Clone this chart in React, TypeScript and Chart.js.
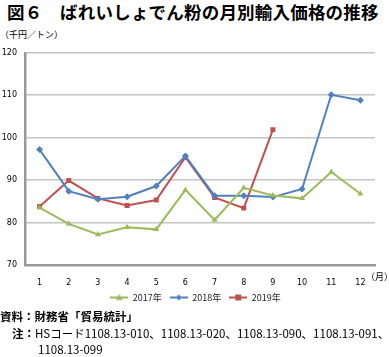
import { useEffect, useRef } from "react";
import { Chart, registerables } from "chart.js";

Chart.register(...registerables);

const months = ["1", "2", "3", "4", "5", "6", "7", "8", "9", "10", "11", "12"];
const series2017 = [83.5, 79.7, 77.2, 78.9, 78.4, 87.7, 80.6, 88.2, 86.4, 85.7, 91.9, 86.8];
const series2018 = [97.2, 87.4, 85.5, 86.1, 88.6, 95.7, 86.3, 86.3, 86.0, 87.9, 110.1, 108.8];
const series2019 = [83.8, 89.9, 85.7, 84.0, 85.3, 95.4, 85.9, 83.4, 101.9, null, null, null];
const seriesLabels = ["2017年", "2018年", "2019年"];
const seriesColors = ["#9BBB59", "#4F81BD", "#C0504D"];
const seriesMarkers = ["triangle", "rectRot", "rect"];
const yMin = 70;
const yMax = 120;
const yStep = 10;

const titleText = "図６　ばれいしょでん粉の月別輸入価格の推移";
const unitText = "（千円／トン）";
const monthUnit = "（月）";
const sourceText = "資料：財務省「貿易統計」";
const noteLabel = "注：";
const noteText1 = "HSコード1108.13-010、1108.13-020、1108.13-090、1108.13-091、";
const noteText2 = "1108.13-099";

const JP = '"Noto Sans CJK JP", "Noto Sans", sans-serif';
const TICK = '"DejaVu Sans", sans-serif';

function makeIcon(color: string, marker: string): HTMLCanvasElement {
  const c = document.createElement("canvas");
  c.width = 18;
  c.height = 8;
  const ctx = c.getContext("2d")!;
  ctx.strokeStyle = color;
  ctx.fillStyle = color;
  ctx.lineWidth = 2;
  ctx.beginPath();
  ctx.moveTo(0, 4);
  ctx.lineTo(18, 4);
  ctx.stroke();
  ctx.beginPath();
  if (marker === "triangle") {
    ctx.moveTo(9, 0.5);
    ctx.lineTo(12.5, 6.5);
    ctx.lineTo(5.5, 6.5);
    ctx.closePath();
  } else if (marker === "rectRot") {
    ctx.moveTo(9, 1);
    ctx.lineTo(12, 4);
    ctx.lineTo(9, 7);
    ctx.lineTo(6, 4);
    ctx.closePath();
  } else {
    ctx.rect(6, 1, 6, 6);
  }
  ctx.fill();
  return c;
}

export default function App() {
  const canvasRef = useRef<HTMLCanvasElement | null>(null);

  useEffect(() => {
    document.body.style.margin = "0";
    const canvas = canvasRef.current;
    if (!canvas) return;
    const icons = seriesColors.map((c, i) => makeIcon(c, seriesMarkers[i]));
    const seriesData = [series2017, series2018, series2019];

    const monthLabelPlugin = {
      id: "monthLabel",
      afterLayout(chart: any) {
        const lg = chart.legend;
        if (lg) {
          lg.left += 8;
          lg.right += 8;
        }
      },
      afterDraw(chart: any) {
        const { ctx, chartArea, scales } = chart;
        const xs = scales.x;
        ctx.save();
        ctx.font = `9px ${JP}`;
        ctx.fillStyle = "#000";
        ctx.textAlign = "left";
        ctx.textBaseline = "middle";
        const y = xs.top + 12;
        ctx.fillText(monthUnit, chartArea.right - 9, y);
        ctx.restore();
      },
    };

    const chart = new Chart(canvas, {
      type: "line",
      data: {
        labels: months,
        datasets: seriesLabels.map((label, i) => ({
          label,
          data: seriesData[i],
          borderColor: seriesColors[i],
          backgroundColor: seriesColors[i],
          borderWidth: 2,
          pointStyle: seriesMarkers[i] as any,
          pointRadius: 3.5,
          pointBorderWidth: 0,
          tension: 0,
          spanGaps: false,
        })),
      },
      options: {
        animation: false,
        responsive: false,
        maintainAspectRatio: false,
        layout: { padding: { top: 10, right: 14, left: 0, bottom: 2 } },
        plugins: {
          legend: {
            position: "bottom",
            labels: {
              usePointStyle: true,
              pointStyleWidth: 18,
              boxHeight: 8,
              padding: 8,
              color: "#222",
              font: { size: 9, family: JP },
              generateLabels: (ch: any) => {
                const items = (Chart.defaults.plugins.legend.labels as any).generateLabels(ch);
                items.forEach((it: any, i: number) => {
                  it.pointStyle = icons[i];
                });
                return items;
              },
            },
          },
          tooltip: { enabled: false },
        },
        scales: {
          x: {
            offset: true,
            grid: { display: false },
            border: { display: true, color: "#999", width: 2.5 },
            ticks: { color: "#000", font: { size: 8, family: TICK }, padding: 5, maxRotation: 0 },
            afterFit: (s: any) => {
              s.height = 20;
            },
          },
          y: {
            min: yMin,
            max: yMax,
            ticks: { stepSize: yStep, color: "#000", font: { size: 8, family: TICK }, padding: 8 },
            grid: { color: "#c4c4c4", lineWidth: 1.5, drawTicks: false },
            border: { display: true, color: "#999", width: 2.5 },
            afterFit: (s: any) => {
              s.width = 25;
            },
          },
        },
      },
      plugins: [monthLabelPlugin],
    } as any);

    return () => chart.destroy();
  }, []);

  return (
    <div style={{ position: "relative", width: 389, height: 357, fontFamily: JP, background: "#fff", overflow: "hidden" }}>
      <div style={{ position: "absolute", left: 7, top: 2, fontSize: 17.5, fontWeight: "bold", lineHeight: "20px", whiteSpace: "nowrap", letterSpacing: 0.2 }}>
        {titleText}
      </div>
      <div style={{ position: "absolute", left: 0, top: 29, fontSize: 9, lineHeight: "12px", whiteSpace: "nowrap" }}>{unitText}</div>
      <canvas ref={canvasRef} width={389} height={274} style={{ position: "absolute", left: 0, top: 40, width: 389, height: 274 }} />
      <div style={{ position: "absolute", left: 0, top: 308, fontSize: 11.5, fontWeight: "bold", lineHeight: "16px", whiteSpace: "nowrap" }}>{sourceText}</div>
      <div style={{ position: "absolute", left: 12, top: 325, fontSize: 11.5, lineHeight: "17px", whiteSpace: "nowrap" }}>
        <span style={{ fontWeight: "bold" }}>{noteLabel}</span>
        {noteText1}
      </div>
      <div style={{ position: "absolute", left: 38, top: 341, fontSize: 11.5, lineHeight: "17px", whiteSpace: "nowrap" }}>{noteText2}</div>
    </div>
  );
}
